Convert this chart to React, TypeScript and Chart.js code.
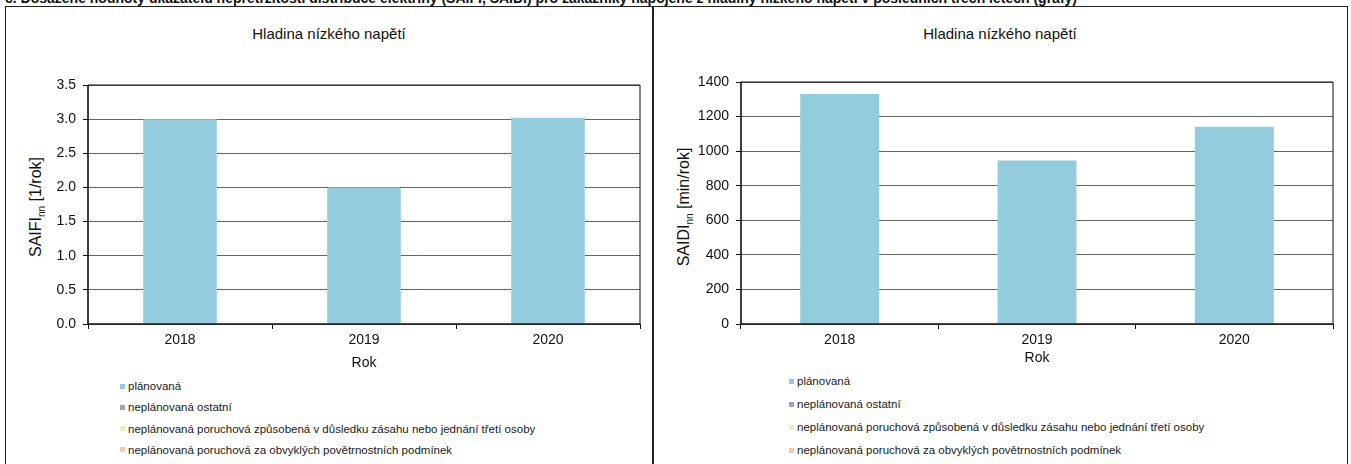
import React, { useEffect, useRef } from "react";
import { Chart, registerables } from "chart.js";

Chart.register(...registerables);

// ---- data ----
const years = ["2018", "2019", "2020"];
const seriesLabels = [
  "plánovaná",
  "neplánovaná ostatní",
  "neplánovaná poruchová způsobená v důsledku zásahu nebo jednání třetí osoby",
  "neplánovaná poruchová za obvyklých povětrnostních podmínek",
];
const seriesColors = ["#93CDDD", "#A6A6A6", "#E6EEC0", "#F8CBA6"];

const saifiPlanned = [3.0, 2.0, 3.02];
const saifiOther = [0, 0, 0];
const saifiThirdParty = [0, 0, 0];
const saifiWeather = [0, 0, 0];

const saidiPlanned = [1330, 946, 1141];
const saidiOther = [0, 0, 0];
const saidiThirdParty = [0, 0, 0];
const saidiWeather = [0, 0, 0];

const saifiTicks = { min: 0, max: 3.5, step: 0.5 };
const saidiTicks = { min: 0, max: 1400, step: 200 };

const headerText =
  "c. Dosažené hodnoty ukazatelů nepřetržitosti distribuce elektřiny (SAIFI, SAIDI) pro zákazníky napojené z hladiny nízkého napětí v posledních třech letech (grafy)";
const panelTitle = "Hladina nízkého napětí";
const xTitle = "Rok";

const FONT = "Arial, 'Liberation Sans', Helvetica, sans-serif";

const framePlugin = {
  id: "frame",
  afterDatasetsDraw(chart: any) {
    const { ctx, chartArea } = chart;
    const { left, top, right, bottom } = chartArea;
    ctx.save();
    ctx.strokeStyle = "#111";
    ctx.lineWidth = 1;
    ctx.beginPath();
    ctx.moveTo(left, top);
    ctx.lineTo(right, top);
    ctx.lineTo(right, bottom);
    ctx.stroke();
    ctx.lineWidth = 1.6;
    ctx.beginPath();
    ctx.moveTo(left, top);
    ctx.lineTo(left, bottom);
    ctx.lineTo(right, bottom);
    ctx.stroke();
    ctx.restore();
  },
};

type ChartProps = {
  values: number[][];
  ticks: { min: number; max: number; step: number };
  decimals: number;
  yWidth: number;
  padRight: number;
  padTop: number;
  xHeight: number;
  width: number;
  height: number;
  left: number;
};

function BarChart(p: ChartProps) {
  const ref = useRef<HTMLCanvasElement | null>(null);
  useEffect(() => {
    if (!ref.current) return;
    const chart = new Chart(ref.current, {
      type: "bar",
      data: {
        labels: years,
        datasets: seriesLabels.map((label, i) => ({
          label,
          data: p.values[i],
          backgroundColor: seriesColors[i],
          borderWidth: 0,
          categoryPercentage: 0.4,
          barPercentage: 1,
        })),
      },
      options: {
        animation: false,
        responsive: false,
        maintainAspectRatio: false,
        layout: { padding: { left: 0, right: p.padRight, top: p.padTop, bottom: 0 } },
        plugins: {
          legend: { display: false },
          title: { display: false },
          tooltip: { enabled: false },
        },
        scales: {
          x: {
            stacked: true,
            grid: {
              offset: true,
              drawOnChartArea: false,
              drawTicks: true,
              tickLength: 5,
              color: "#111",
              tickColor: "#111",
            },
            border: { display: false },
            ticks: { color: "#111", font: { family: FONT, size: 14 }, padding: 3 },
            title: {
              display: true,
              text: xTitle,
              color: "#111",
              font: { family: FONT, size: 14 },
              padding: 0,
            },
            afterFit: (s: any) => {
              s.height = p.xHeight;
            },
          },
          y: {
            stacked: true,
            min: p.ticks.min,
            max: p.ticks.max,
            ticks: {
              stepSize: p.ticks.step,
              color: "#111",
              font: { family: FONT, size: 14 },
              padding: 7,
              callback: (v: any) => Number(v).toFixed(p.decimals),
            },
            grid: {
              color: "#666",
              tickColor: "#111",
              tickLength: 5,
              drawTicks: true,
              lineWidth: 1,
            },
            border: { display: false },
            afterFit: (s: any) => {
              s.width = p.yWidth;
            },
          },
        },
      } as any,
      plugins: [framePlugin],
    });
    return () => chart.destroy();
  }, []);
  return (
    <canvas
      ref={ref}
      width={p.width}
      height={p.height}
      style={{ position: "absolute", left: p.left, top: 0, width: p.width, height: p.height }}
    />
  );
}

function Legend(props: { left: number; top: number; spacing: number; size: number }) {
  return (
    <>
      {seriesLabels.map((l, i) => (
        <div
          key={l}
          style={{
            position: "absolute",
            left: props.left,
            top: props.top + i * props.spacing,
            height: 14,
            display: "flex",
            alignItems: "center",
            whiteSpace: "nowrap",
            fontSize: props.size,
            color: "#1a1a1a",
            transform: "translateY(-50%)",
          }}
        >
          <span
            style={{
              display: "inline-block",
              width: 5,
              height: 5,
              background: seriesColors[i],
              marginRight: 3,
            }}
          />
          {l}
        </div>
      ))}
    </>
  );
}

function YTitle(props: { x: number; y: number; main: string; sub: string; unit: string }) {
  return (
    <div
      style={{
        position: "absolute",
        left: props.x,
        top: props.y,
        transform: "translate(-50%, -50%) rotate(-90deg)",
        whiteSpace: "nowrap",
        fontSize: 16,
        color: "#111",
      }}
    >
      {props.main}
      <sub style={{ fontSize: 10 }}>{props.sub}</sub> {props.unit}
    </div>
  );
}

export default function App() {
  return (
    <div
      style={{
        position: "absolute",
        left: 0,
        top: 0,
        width: 1351,
        height: 464,
        overflow: "hidden",
        background: "#fff",
        fontFamily: FONT,
      }}
    >
      <div
        style={{
          position: "absolute",
          left: 5,
          top: -10,
          fontWeight: "bold",
          fontSize: 14,
          whiteSpace: "nowrap",
          color: "#111",
        }}
      >
        {headerText}
      </div>
      <div
        style={{
          position: "absolute",
          left: 5,
          top: 6,
          width: 649,
          height: 470,
          border: "1.5px solid #222",
          boxSizing: "border-box",
        }}
      />
      <div
        style={{
          position: "absolute",
          left: 652,
          top: 6,
          width: 696,
          height: 470,
          border: "1.5px solid #222",
          boxSizing: "border-box",
        }}
      />
      <div
        style={{
          position: "absolute",
          left: 329,
          top: 33,
          transform: "translate(-50%, -50%)",
          fontSize: 15,
          whiteSpace: "nowrap",
          color: "#111",
        }}
      >
        {panelTitle}
      </div>
      <div
        style={{
          position: "absolute",
          left: 1000,
          top: 33,
          transform: "translate(-50%, -50%)",
          fontSize: 15,
          whiteSpace: "nowrap",
          color: "#111",
        }}
      >
        {panelTitle}
      </div>
      <YTitle x={37} y={207} main="SAIFI" sub="nn" unit="[1/rok]" />
      <YTitle x={685} y={207} main="SAIDI" sub="nn" unit="[min/rok]" />
      <BarChart
        values={[saifiPlanned, saifiOther, saifiThirdParty, saifiWeather]}
        ticks={saifiTicks}
        decimals={1}
        yWidth={88}
        padRight={12}
        padTop={85}
        xHeight={48}
        width={652}
        height={372}
        left={0}
      />
      <BarChart
        values={[saidiPlanned, saidiOther, saidiThirdParty, saidiWeather]}
        ticks={saidiTicks}
        decimals={0}
        yWidth={87}
        padRight={13}
        padTop={82}
        xHeight={43}
        width={692}
        height={367}
        left={654}
      />
      <Legend left={120} top={386} spacing={21.3} size={11.5} />
      <Legend left={789} top={381} spacing={23} size={11.5} />
    </div>
  );
}
